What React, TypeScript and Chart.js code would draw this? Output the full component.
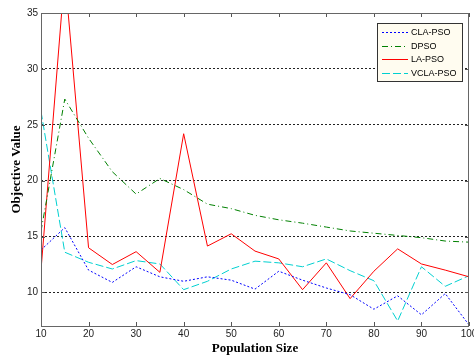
import React, { useEffect, useRef } from "react";
import { Chart, registerables } from "chart.js";

Chart.register(...registerables);

const populationSizes = [10, 15, 20, 25, 30, 35, 40, 45, 50, 55, 60, 65, 70, 75, 80, 85, 90, 95, 100];
const claPso = [13.8, 15.8, 12.0, 10.9, 12.3, 11.4, 11.0, 11.4, 11.1, 10.3, 11.9, 11.1, 10.4, 9.8, 8.5, 9.7, 8.0, 9.9, 7.1];
const dpso = [15.5, 27.3, 23.8, 20.8, 18.8, 20.2, 19.2, 17.9, 17.5, 16.9, 16.5, 16.2, 15.85, 15.5, 15.3, 15.1, 14.9, 14.6, 14.5];
const laPso = [12.0, 38.5, 14.0, 12.5, 13.65, 11.8, 24.2, 14.15, 15.25, 13.7, 13.0, 10.25, 12.65, 9.45, 11.9, 13.9, 12.55, 12.0, 11.4];
const vclaPso = [26.2, 13.6, 12.7, 12.1, 12.85, 12.55, 10.25, 11.0, 12.1, 12.8, 12.65, 12.3, 13.0, 11.95, 11.05, 7.45, 12.3, 10.55, 11.5];
const seriesLabels = ["CLA-PSO", "DPSO", "LA-PSO", "VCLA-PSO"];
const seriesColors = ["#0000ff", "#008000", "#ff0000", "#00d0d0"];
const seriesDashes = [[2, 2], [6, 3, 1, 3], [], [8, 3]];
const xTicks = [10, 20, 30, 40, 50, 60, 70, 80, 90, 100];
const yTicks = [10, 15, 20, 25, 30, 35];
const xTitle = "Population Size";
const yTitle = "Objective Value";

const SANS = "'Liberation Sans', Arial, sans-serif";
const SERIF = "'Liberation Serif', 'Times New Roman', serif";

const framePlugin = {
  id: "matlabFrame",
  afterDraw(chart: any) {
    const { ctx, chartArea: a, scales } = chart;
    ctx.save();
    ctx.setLineDash([]);
    ctx.strokeStyle = "#555";
    ctx.lineWidth = 1;
    ctx.beginPath();
    for (const v of xTicks) {
      const px = Math.round(scales.x.getPixelForValue(v)) + 0.5;
      ctx.moveTo(px, a.bottom);
      ctx.lineTo(px, a.bottom - 4);
      ctx.moveTo(px, a.top);
      ctx.lineTo(px, a.top + 4);
    }
    for (const v of yTicks) {
      const py = Math.round(scales.y.getPixelForValue(v)) + 0.5;
      ctx.moveTo(a.left, py);
      ctx.lineTo(a.left + 4, py);
      ctx.moveTo(a.right, py);
      ctx.lineTo(a.right - 4, py);
    }
    ctx.stroke();
    ctx.strokeStyle = "#666";
    ctx.strokeRect(Math.round(a.left) + 0.5, Math.round(a.top) + 0.5, Math.round(a.right - a.left) - 1, Math.round(a.bottom - a.top));

    // legend
    const lx = 377.5, ly = 23.5, lw = 85, lh = 58;
    ctx.fillStyle = "#fffcf0";
    ctx.fillRect(lx, ly, lw, lh);
    ctx.strokeStyle = "#333";
    ctx.strokeRect(lx, ly, lw, lh);
    ctx.font = "9px " + SANS;
    ctx.textBaseline = "middle";
    ctx.textAlign = "left";
    seriesLabels.forEach((label, i) => {
      const y = Math.round(32 + i * 13.5) + 0.5;
      ctx.beginPath();
      ctx.setLineDash(seriesDashes[i]);
      ctx.strokeStyle = seriesColors[i];
      ctx.lineWidth = 1;
      ctx.moveTo(382, y);
      ctx.lineTo(408, y);
      ctx.stroke();
      ctx.setLineDash([]);
      ctx.fillStyle = "#000";
      ctx.fillText(label, 411, y);
    });
    ctx.restore();
  },
};

export default function App() {
  const ref = useRef<HTMLCanvasElement | null>(null);

  useEffect(() => {
    if (!ref.current) return;
    const mk = (data: number[]) => populationSizes.map((x, i) => ({ x, y: data[i] }));
    const series = [claPso, dpso, laPso, vclaPso];
    const chart = new Chart(ref.current, {
      type: "line",
      data: {
        datasets: series.map((s, i) => ({
          label: seriesLabels[i],
          data: mk(s),
          borderColor: seriesColors[i],
          borderDash: seriesDashes[i],
          borderWidth: 1,
          pointRadius: 0,
          fill: false,
          tension: 0,
        })),
      },
      options: {
        animation: false,
        responsive: false,
        devicePixelRatio: 1,
        layout: { padding: { left: 0, top: 13, right: 5, bottom: 0 } },
        plugins: { legend: { display: false }, tooltip: { enabled: false } },
        scales: {
          x: {
            type: "linear",
            min: 10,
            max: 100,
            afterBuildTicks: (s: any) => { s.ticks = xTicks.map((v) => ({ value: v })); },
            afterFit: (s: any) => { s.height = 30; s.paddingLeft = 0; s.paddingRight = 0; },
            grid: { display: false, drawTicks: false },
            border: { display: false },
            ticks: { font: { family: SANS, size: 10 }, color: "#222", padding: 2, maxRotation: 0, autoSkip: false },
            title: { display: true, text: xTitle, color: "#000", font: { family: SERIF, size: 13, weight: "bold" }, padding: { top: 0, bottom: 0 } },
          },
          y: {
            type: "linear",
            min: 7,
            max: 35,
            afterBuildTicks: (s: any) => { s.ticks = yTicks.map((v) => ({ value: v })); },
            afterFit: (s: any) => { s.width = 41; s.paddingTop = 0; s.paddingBottom = 0; },
            grid: { display: true, drawTicks: false, color: "#222", lineWidth: 1 },
            border: { display: false, dash: [2, 2] },
            ticks: { font: { family: SANS, size: 10 }, color: "#222", padding: 3, autoSkip: false },
            title: { display: true, text: yTitle, color: "#000", font: { family: SERIF, size: 13, weight: "bold" }, padding: { top: 9, bottom: 0 } },
          },
        },
      },
      plugins: [framePlugin],
    } as any);
    return () => chart.destroy();
  }, []);

  return (
    <div style={{ position: "absolute", left: 0, top: 0, width: 474, height: 356, background: "#fff" }}>
      <canvas ref={ref} width={474} height={356} style={{ display: "block" }} />
    </div>
  );
}
